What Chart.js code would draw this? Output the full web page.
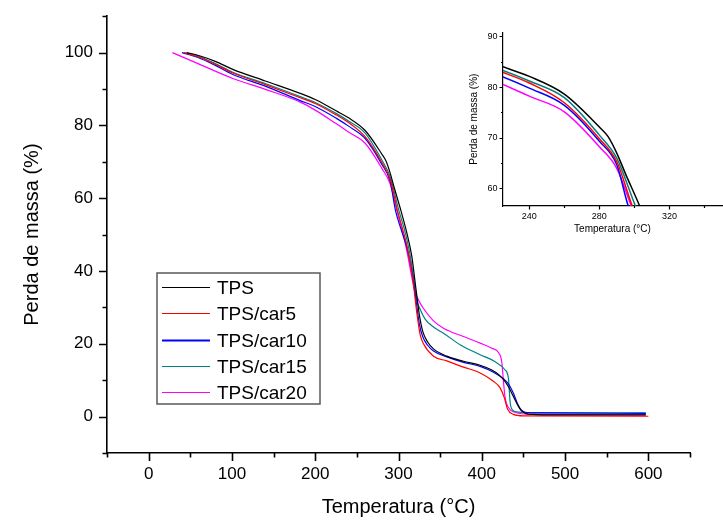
<!DOCTYPE html>
<html>
<head>
<meta charset="utf-8">
<script src="https://cdn.jsdelivr.net/npm/chart.js@4/dist/chart.umd.min.js"></script>
<style>
  html, body { margin: 0; padding: 0; background: #fff; }
  #wrap { position: relative; width: 723px; height: 523px; overflow: hidden; }
  #main { position: absolute; left: 0; top: 0; }
  #inset { position: absolute; left: 460px; top: 25px; filter: blur(0.35px); }
</style>
</head>
<body>
<div id="wrap">
  <canvas id="main" width="723" height="523"></canvas>
  <canvas id="inset" width="263" height="215"></canvas>
</div>
<script>
// Thermogravimetric curves: temperature (°C) and remaining mass (%) per sample
const seriesNames = ['TPS', 'TPS/car5', 'TPS/car10', 'TPS/car15', 'TPS/car20'];
const seriesColors = ['#000000', '#ff0000', '#0000ff', '#008080', '#ff00ff'];

const tpsTemp = [46, 60, 80, 101, 140, 182, 200, 225, 240, 260, 280, 285, 290, 295, 303, 310, 316, 321, 325, 329, 335, 342, 358, 378, 398, 412, 420, 426, 432, 438, 444, 448, 456, 480, 597];
const tpsMass = [100, 99.2, 97.6, 95.4, 92.2, 88.8, 87.1, 84.0, 82.1, 78.6, 72.1, 70.2, 66.9, 62.8, 56.5, 50.5, 44, 35, 28, 23.5, 20.5, 18.6, 16.6, 15.2, 14.1, 12.8, 11.6, 10.2, 8.2, 5.5, 2.8, 1.5, 0.7, 0.5, 0.5];

const car5Temp = [42, 60, 80, 101, 140, 182, 200, 225, 240, 260, 280, 290, 298.8, 305, 311, 317, 322, 326, 330, 342, 358, 378, 398, 414, 422, 427, 431, 438, 450, 600];
const car5Mass = [100, 98.8, 96.8, 94.4, 91.2, 87.6, 86.0, 82.9, 80.8, 76.9, 69.8, 65.2, 56.5, 51.5, 46, 38, 28.5, 22.5, 20.0, 16.6, 15.3, 13.6, 12.0, 9.7, 7.9, 5.2, 2.0, 0.6, 0.2, 0.1];

const car10Temp = [40, 60, 80, 101, 140, 182, 200, 225, 240, 260, 280, 290, 296.5, 303, 310, 316, 321, 325, 329, 335, 342, 358, 378, 398, 414, 426, 432, 438, 443, 447, 452, 470, 597];
const car10Mass = [100, 98.6, 96.5, 94.0, 90.8, 86.8, 85.2, 82.0, 79.8, 76.4, 69.3, 64.6, 56.5, 51.5, 46.5, 40, 32, 25.5, 22.0, 19.6, 18.0, 16.4, 14.9, 13.8, 12.2, 10.4, 9.0, 6.4, 3.5, 1.9, 1.2, 1.0, 0.9];

const car15Temp = [44, 60, 80, 101, 140, 182, 200, 225, 240, 260, 280, 290, 300.6, 307, 313, 318, 322, 326, 332, 342, 354, 375, 398, 415, 428, 432, 434, 437, 442, 455, 597];
const car15Mass = [100, 99.0, 97.0, 94.6, 91.5, 87.9, 86.3, 83.3, 81.2, 77.9, 70.5, 65.9, 56.5, 51.5, 45.5, 38.5, 32, 29.5, 26.8, 24.6, 22.9, 19.6, 17.0, 15.2, 12.8, 10.5, 4.0, 1.8, 1.3, 1.1, 1.0];

const car20Temp = [28.5, 60, 101, 140, 182, 200, 225, 240, 260, 280, 290, 298.2, 304, 310, 315, 318, 320, 324, 330, 342, 354, 378, 398, 412, 420, 424, 426, 428, 432, 440, 460, 597];
const car20Mass = [100, 96.9, 92.9, 89.9, 86.4, 84.2, 80.5, 78.2, 75.1, 68.2, 63.9, 56.5, 51.5, 45.5, 39.5, 36, 34.3, 32, 29.7, 26.3, 24.3, 22.0, 20.2, 18.8, 17.6, 15.0, 9.7, 5.2, 2.5, 1.2, 0.6, 0.5];

// Axis tick values
const mainXTicks = [0, 100, 200, 300, 400, 500, 600];
const mainXMinor = [-50, 50, 150, 250, 350, 450, 550, 650];
const mainYTicks = [0, 20, 40, 60, 80, 100];
const mainYMinor = [-10, 10, 30, 50, 70, 90, 110];
const insetXTicks = [240, 280, 320];
const insetXMinor = [260, 300, 340];
const insetYTicks = [60, 70, 80, 90];
const insetYMinor = [65, 75, 85];

const temps = [tpsTemp, car5Temp, car10Temp, car15Temp, car20Temp];
const masses = [tpsMass, car5Mass, car10Mass, car15Mass, car20Mass];

function buildDatasets(lineWidth) {
  return seriesNames.map((name, i) => ({
    label: name,
    data: temps[i].map((t, k) => ({ x: t, y: masses[i][k] })),
    borderColor: seriesColors[i],
    backgroundColor: seriesColors[i],
    borderWidth: lineWidth,
    pointRadius: 0,
    fill: false,
    cubicInterpolationMode: 'monotone'
  }));
}

// Draws major and minor tick marks pointing outward from the axis lines
const axisTicks = {
  id: 'axisTicks',
  afterDraw(chart, args, o) {
    const { ctx } = chart;
    const xs = chart.scales.x, ys = chart.scales.y;
    ctx.save();
    ctx.strokeStyle = '#000';
    ctx.lineWidth = o.width;
    ctx.beginPath();
    const xLine = (vals, len) => vals.forEach(v => {
      const p = Math.round(xs.getPixelForValue(v)) + 0.5;
      ctx.moveTo(p, xs.top); ctx.lineTo(p, xs.top + len);
    });
    const yLine = (vals, len) => vals.forEach(v => {
      const p = Math.round(ys.getPixelForValue(v)) + 0.5;
      ctx.moveTo(ys.right, p); ctx.lineTo(ys.right - len, p);
    });
    xLine(o.xMajor, o.majorLen); xLine(o.xMinor, o.minorLen);
    yLine(o.yMajor, o.majorLen); yLine(o.yMinor, o.minorLen);
    ctx.stroke();
    ctx.restore();
  }
};

// Boxed legend placed inside the plot area
const boxLegend = {
  id: 'boxLegend',
  afterDraw(chart, args, o) {
    if (!o.show) return;
    const { ctx } = chart;
    ctx.save();
    ctx.fillStyle = '#fff';
    ctx.fillRect(o.left, o.top, o.width, o.height);
    ctx.strokeStyle = '#5a5a5a';
    ctx.lineWidth = 1.5;
    ctx.strokeRect(o.left, o.top, o.width, o.height);
    ctx.font = o.font;
    ctx.textBaseline = 'middle';
    chart.data.datasets.forEach((ds, i) => {
      const y = Math.round(o.top + o.firstRow + i * o.rowGap) + 0.5;
      ctx.strokeStyle = ds.borderColor;
      ctx.lineWidth = i === 2 ? 2 : 1.2;
      ctx.beginPath();
      ctx.moveTo(o.left + 5, y); ctx.lineTo(o.left + 53, y);
      ctx.stroke();
      ctx.fillStyle = '#000';
      ctx.fillText(ds.label, o.left + 60, y + 1);
    });
    ctx.restore();
  }
};

Chart.register(axisTicks, boxLegend);

const fontFam = '"Liberation Sans", Arial, sans-serif';

function makeChart(canvasId, cfg) {
  return new Chart(document.getElementById(canvasId), {
    type: 'line',
    data: { datasets: buildDatasets(cfg.lineWidth) },
    options: {
      responsive: false,
      animation: false,
      devicePixelRatio: 1,
      layout: { padding: cfg.padding },
      plugins: {
        legend: { display: false },
        tooltip: { enabled: false },
        axisTicks: cfg.ticks,
        boxLegend: cfg.legend
      },
      scales: {
        x: {
          type: 'linear',
          min: cfg.xMin, max: cfg.xMax,
          afterBuildTicks: s => { s.ticks = cfg.xTicks.map(v => ({ value: v })); },
          afterFit: s => { s.height = cfg.xHeight; },
          grid: { display: false, drawTicks: true, tickLength: cfg.ticks.majorLen },
          border: { display: true, color: '#000', width: cfg.ticks.width },
          ticks: { color: '#000', font: { family: fontFam, size: cfg.tickSize }, padding: cfg.xPad, maxRotation: 0 },
          title: { display: true, text: 'Temperatura (°C)', color: '#000', font: { family: fontFam, size: cfg.titleSize }, padding: { bottom: cfg.xTitlePad, top: 0 } }
        },
        y: {
          type: 'linear',
          min: cfg.yMin, max: cfg.yMax,
          afterBuildTicks: s => { s.ticks = cfg.yTicks.map(v => ({ value: v })); },
          afterFit: s => { s.width = cfg.yWidth; },
          grid: { display: false, drawTicks: true, tickLength: cfg.ticks.majorLen },
          border: { display: true, color: '#000', width: cfg.ticks.width },
          ticks: { color: '#000', font: { family: fontFam, size: cfg.tickSize }, padding: cfg.yPad },
          title: { display: true, text: 'Perda de massa (%)', color: '#000', font: { family: fontFam, size: cfg.titleSize }, padding: { top: cfg.yTitlePad, bottom: 0 } }
        }
      }
    }
  });
}

makeChart('main', {
  lineWidth: 1.2,
  padding: { top: 12, right: 33, left: 0, bottom: 0 },
  xMin: -50, xMax: 650, yMin: -10, yMax: 110,
  xTicks: mainXTicks, yTicks: mainYTicks,
  xHeight: 70, yWidth: 107,
  tickSize: 17, titleSize: 20,
  xPad: 3, yPad: 6, xTitlePad: 4, yTitlePad: 20,
  ticks: { width: 1.6, majorLen: 8, minorLen: 4.5, xMajor: mainXTicks, xMinor: mainXMinor, yMajor: mainYTicks, yMinor: mainYMinor },
  legend: { show: true, left: 157, top: 273, width: 163, height: 131, firstRow: 14, rowGap: 26.3, font: '19px ' + fontFam }
});

makeChart('inset', {
  lineWidth: 1.5,
  padding: { top: 7, right: 1, left: 0, bottom: 0 },
  xMin: 225, xMax: 350, yMin: 56.5, yMax: 90.8,
  xTicks: insetXTicks, yTicks: insetYTicks,
  xHeight: 34, yWidth: 43,
  tickSize: 9, titleSize: 10,
  xPad: 2, yPad: 2, xTitlePad: 5, yTitlePad: 8,
  ticks: { width: 1.2, majorLen: 3.5, minorLen: 2, xMajor: insetXTicks, xMinor: insetXMinor, yMajor: insetYTicks, yMinor: insetYMinor },
  legend: { show: false }
});
</script>
</body>
</html>
